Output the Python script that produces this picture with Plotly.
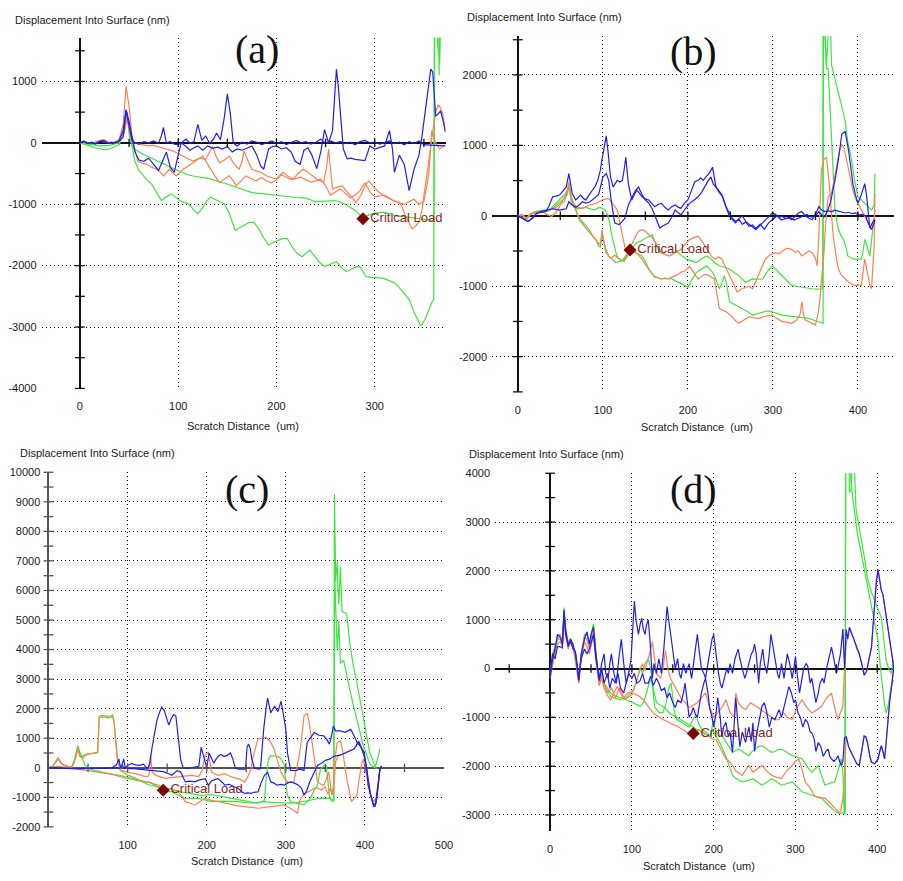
import plotly.graph_objects as go

W, H = 903, 881
BLUE = "#1f1ff2"
ORANGE = "#ff7f50"
GREEN = "#3de63d"

# ---------------- (a) scratch profiles: (distance um, displacement nm) ----------------
A_BLUE1 = [(0,0),(4,30),(8,-10),(12,0),(16,-20),(20,20),(24,40),(28,0),(32,-10),(36,10),(40,30),(44,90),(47,520),(50,280),(53,40),(56,0),(60,-20),(65,20),(70,0),(75,30),(80,-10),(83,120),(85,250),(88,0),(92,20),(96,-20),(100,-30),(104,10),(108,60),(112,-10),(116,20),(120,300),(124,40),(128,110),(132,-10),(136,60),(139,160),(143,50),(147,420),(150,800),(153,480),(156,0),(160,-50),(165,10),(170,-20),(175,30),(180,10),(185,-30),(190,0),(195,30),(200,-10),(205,20),(210,-30),(215,10),(220,40),(225,0),(230,20),(235,-20),(240,10),(245,60),(250,-10),(255,30),(260,0),(265,20),(270,-10),(275,10),(280,-30),(285,20),(290,40),(295,0),(300,10),(305,-20),(310,0),(315,30),(320,-10),(325,10),(330,-30),(335,20),(340,-10),(345,30),(350,-30),(355,-40),(360,-40),(365,-45),(372,-50)]
A_BLUE2 = [(0,0),(4,20),(8,-10),(12,10),(16,-10),(20,20),(24,30),(28,-10),(32,10),(36,0),(40,40),(44,200),(47,540),(50,350),(53,100),(56,-150),(60,-280),(65,-300),(70,-250),(75,-350),(80,-450),(84,-300),(88,-150),(92,-400),(96,-480),(100,-200),(103,0),(108,-60),(112,-120),(116,-80),(120,-50),(125,-120),(130,-50),(135,-90),(140,-70),(145,-100),(150,-60),(155,-150),(160,-100),(165,-120),(170,-90),(175,-50),(180,-200),(184,-380),(187,-430),(192,-100),(196,-60),(200,-50),(205,-100),(210,-80),(215,-150),(219,-300),(224,-350),(228,-120),(232,-80),(236,-200),(241,-420),(245,-150),(249,215),(253,0),(257,200),(259,700),(261,1200),(263,900),(265,500),(268,-100),(272,-260),(276,-250),(280,-270),(285,-280),(290,-290),(293,-150),(295,-50),(300,-100),(305,-80),(310,-50),(315,200),(318,-100),(320,-480),(325,-200),(330,-350),(335,-780),(340,-430),(345,-200),(348,100),(351,500),(354,900),(357,1200),(359,1150),(360,860),(362,430),(365,480),(367,520),(370,330),(372,170)]
A_ORANGE1 = [(0,0),(5,20),(10,0),(15,10),(20,40),(25,50),(30,10),(35,0),(40,60),(44,300),(47,920),(50,600),(53,100),(56,0),(60,-20),(65,-40),(70,-50),(75,-40),(80,-60),(88,-100),(95,-134),(100,-180),(105,-215),(110,-260),(115,-296),(122,-250),(128,-270),(132,-150),(135,-54),(138,-200),(142,-323),(147,-280),(152,-215),(157,-350),(162,-430),(165,-300),(167,-134),(170,-250),(175,-430),(180,-460),(185,-484),(190,-540),(195,-560),(200,-590),(204,-520),(207,-480),(212,-550),(217,-590),(222,-500),(227,-430),(232,-480),(237,-540),(242,-600),(248,-645),(251,-400),(253,-100),(255,-400),(257,-750),(262,-720),(267,-700),(272,-800),(277,-900),(281,-970),(286,-850),(290,-700),(294,-620),(299,-720),(304,-800),(310,-870),(315,-910),(320,-950),(325,-970),(328,-1050),(331,-1180),(335,-1300),(338,-1400),(342,-1350),(345,-1290),(348,-1100),(350,-860),(352,-600),(355,-320),(358,100),(361,400),(363,560),(365,620),(367,560),(369,480),(372,180)]
A_ORANGE2 = [(0,0),(5,10),(10,-10),(15,0),(20,30),(25,20),(30,0),(35,10),(40,20),(45,150),(48,400),(51,150),(54,0),(56,-100),(59,-296),(63,-330),(68,-350),(73,-400),(78,-430),(82,-480),(85,-538),(88,-480),(91,-430),(95,-500),(98,-538),(102,-480),(105,-430),(110,-380),(115,-323),(120,-260),(125,-215),(130,-350),(135,-484),(138,-560),(142,-645),(147,-590),(152,-538),(156,-620),(159,-700),(164,-620),(169,-538),(174,-580),(179,-618),(185,-565),(190,-620),(195,-650),(200,-600),(205,-520),(210,-560),(215,-600),(220,-580),(225,-560),(230,-600),(235,-640),(240,-620),(245,-590),(250,-700),(255,-850),(260,-800),(265,-750),(270,-820),(275,-900),(280,-850),(285,-780),(290,-650),(295,-800),(300,-880),(305,-860),(310,-850),(315,-900),(320,-950),(325,-980),(330,-1000),(335,-960),(340,-920),(345,-1000),(350,-950),(353,-700),(355,-500),(358,200),(360,100),(362,0),(366,-100),(369,-60),(372,-30)]
A_GREEN1 = [(0,0),(5,-10),(10,-20),(15,-30),(20,-50),(25,-45),(30,-40),(35,-20),(40,0),(43,150),(45,300),(47,530),(49,350),(51,150),(53,-50),(56,-100),(60,-150),(65,-190),(70,-230),(75,-270),(80,-300),(85,-350),(90,-390),(95,-420),(100,-450),(105,-490),(110,-520),(115,-540),(120,-550),(125,-565),(130,-580),(135,-600),(140,-630),(145,-650),(150,-670),(155,-700),(160,-730),(165,-760),(170,-790),(175,-810),(180,-820),(185,-830),(190,-840),(195,-850),(200,-860),(205,-870),(210,-880),(215,-885),(220,-890),(225,-895),(230,-900),(235,-930),(240,-960),(245,-955),(250,-950),(255,-945),(260,-940),(265,-970),(270,-1000),(275,-1048),(280,-1100),(284,-1160),(288,-1237),(292,-1190),(295,-1170),(300,-1150),(308,-1129),(314,-1150),(320,-1180),(326,-1195),(332,-1210),(338,-1225),(345,-1240),(350,-1250),(355,-1263),(360.3,-1270),(361,2500),(364,1600),(366,1300),(368,2500)]
A_GREEN2 = [(0,0),(5,-20),(10,-50),(15,-80),(20,-100),(25,-110),(30,-100),(35,-70),(40,-30),(43,100),(46,250),(48,500),(50,150),(53,-50),(56,-300),(60,-450),(63,-510),(68,-600),(73,-672),(78,-800),(83,-940),(88,-880),(93,-833),(97,-880),(101,-940),(106,-970),(111,-995),(115,-1080),(120,-1156),(125,-1050),(129,-950),(133,-887),(138,-930),(143,-960),(147,-995),(152,-1150),(158,-1425),(163,-1380),(168,-1330),(172,-1300),(177,-1290),(182,-1400),(187,-1550),(192,-1667),(197,-1620),(202,-1580),(206,-1560),(211,-1559),(216,-1700),(221,-1800),(226,-1855),(230,-1800),(234,-1747),(239,-1850),(244,-1950),(249,-2016),(255,-1980),(261,-1935),(266,-2030),(271,-2097),(276,-2060),(281,-2020),(285,-2016),(288,-2100),(291,-2177),(296,-2190),(302,-2200),(308,-2204),(314,-2240),(321,-2285),(326,-2380),(331,-2470),(335,-2554),(340,-2760),(344,-2900),(347,-2984),(351,-2880),(355,-2720),(358,-2600),(360,-2554),(360.8,3000),(363,1700),(364.5,3000),(365.5,1100),(366.5,3000)]

# ---------------- (b) ----------------
B_BLUE1 = [(0,0),(5,-30),(12,-80),(17,-30),(22,37),(27,50),(33,60),(37,150),(41,270),(45,280),(49,294),(53,350),(57,410),(60,600),(62,450),(64,317),(68,224),(71,260),(74,294),(77,250),(80,224),(84,300),(88,364),(91,420),(94,504),(97,644),(99,800),(101,924),(104,1134),(106,924),(109,551),(112,410),(115,480),(117,504),(120,480),(123,504),(125,650),(127,831),(130,457),(134,224),(137,300),(140,364),(143,320),(146,270),(150,240),(154,224),(158,170),(161,130),(165,160),(169,177),(173,120),(177,84),(181,130),(185,154),(189,120),(192,107),(196,180),(200,224),(204,350),(208,480),(212,504),(215,540),(218,504),(222,560),(226,620),(229,690),(231,550),(233,410),(237,330),(241,270),(245,120),(249,-10),(253,-60),(256,-100),(260,-40),(264,0),(268,-80),(272,-126),(276,-160),(280,-196),(284,-150),(288,-103),(292,-60),(296,0),(299,37),(303,20),(307,-20),(311,-10),(315,-40),(319,-30),(322,-56),(326,0),(330,40),(334,60),(338,0),(342,-30),(346,-56),(350,20),(354,130),(357,84),(361,60),(365,70),(369,60),(373,80),(377,70),(381,60),(385,40),(389,50),(393,30),(397,40),(401,10),(405,20),(409,0),(412,-100),(416,-196),(419,-100),(420,-56)]
B_BLUE2 = [(0,0),(5,-30),(12,-80),(17,-40),(22,30),(27,60),(33,80),(37,90),(41,100),(45,90),(49,80),(53,90),(57,100),(60,200),(64,150),(68,120),(72,150),(76,200),(80,180),(85,200),(90,250),(95,300),(100,551),(104,600),(107,500),(110,200),(114,-103),(119,-126),(123,-80),(126,-33),(130,154),(134,250),(138,350),(142,410),(146,300),(150,224),(154,180),(158,100),(161,14),(164,-80),(167,-173),(171,-140),(177,-103),(181,-20),(185,84),(189,40),(192,14),(197,100),(202,177),(207,220),(212,270),(216,330),(220,420),(224,500),(227,550),(230,450),(235,380),(240,300),(244,150),(248,60),(252,-30),(256,-80),(260,-50),(264,-120),(268,-90),(272,-150),(276,-130),(280,-180),(285,-120),(290,-190),(295,-100),(300,-50),(305,0),(310,-60),(315,-40),(320,-20),(325,-60),(330,-30),(335,-10),(340,20),(345,-20),(350,0),(354,60),(357,20),(360,-20),(364,60),(368,200),(371,400),(373,504),(377,800),(381,1158),(385,1200),(389,924),(392,650),(394,457),(397,300),(400,177),(404,300),(408,457),(410,300),(412,84),(414,-173),(417,-100),(419,-56)]
B_ORANGE1 = [(0,0),(5,20),(10,-30),(15,30),(20,50),(25,40),(30,60),(34,20),(40,-10),(45,50),(50,150),(54,250),(57,300),(60,400),(63,250),(66,170),(70,120),(76,107),(84,150),(92,177),(99,224),(103,240),(107,247),(110,200),(113,154),(117,84),(120,-100),(123,-290),(126,-450),(128,-523),(131,-470),(134,-406),(138,-300),(142,-220),(146,-196),(150,-220),(154,-266),(158,-310),(161,-360),(165,-450),(169,-523),(173,-550),(177,-570),(181,-550),(185,-523),(189,-500),(192,-476),(197,-400),(202,-336),(207,-310),(212,-290),(216,-350),(220,-430),(224,-520),(228,-580),(232,-616),(236,-580),(240,-616),(245,-756),(249,-850),(253,-943),(256,-1020),(258,-1083),(263,-1040),(268,-1013),(272,-1000),(276,-1036),(280,-920),(284,-803),(288,-700),(291,-616),(296,-560),(303,-523),(307,-540),(311,-500),(316,-460),(322,-476),(326,-520),(330,-500),(334,-570),(338,-540),(342,-500),(346,-523),(350,-600),(352,-710),(354,-290),(357,644),(360,800),(363,831),(365,600),(367,364),(369,0),(371,-290),(374,-550),(377,-756),(381,-850),(385,-896),(390,-950),(396,-990),(400,-980),(404,-990),(406,-800),(408,-616),(411,-800),(414,-990),(416,-1036),(418,-700),(419,-430),(420,317)]
B_ORANGE2 = [(0,0),(5,10),(10,-40),(15,20),(20,40),(25,60),(30,50),(35,70),(40,100),(45,120),(50,170),(55,200),(60,450),(63,250),(66,150),(70,20),(74,-56),(79,-120),(84,-196),(89,-300),(94,-383),(97,-406),(99,-200),(101,-350),(103,-500),(107,-580),(110,-600),(114,-560),(118,-600),(122,-640),(126,-620),(130,-560),(134,-450),(138,-500),(142,-560),(146,-620),(150,-700),(154,-760),(158,-820),(161,-860),(165,-880),(169,-900),(173,-880),(177,-900),(181,-870),(185,-850),(189,-830),(192,-800),(197,-780),(202,-720),(207,-820),(212,-900),(216,-860),(220,-830),(225,-850),(231,-896),(234,-1100),(237,-1316),(241,-1340),(245,-1363),(249,-1400),(253,-1456),(257,-1500),(260,-1526),(266,-1480),(272,-1433),(278,-1450),(284,-1456),(290,-1430),(295,-1420),(299,-1410),(305,-1460),(311,-1503),(316,-1510),(322,-1526),(328,-1480),(332,-1400),(334,-1223),(336,-1400),(338,-1480),(342,-1500),(346,-1530),(350,-1550),(353,-1400),(355,-1223),(358,-800),(360,-523),(362,-100),(365,270),(369,317),(372,500),(375,690),(378,900),(381,1017),(384,950),(386,831),(390,600),(394,364),(397,250),(400,177),(404,80),(408,-10),(412,-100),(416,-196),(419,-56)]
B_GREEN1 = [(0,0),(5,-20),(10,-60),(15,20),(20,60),(25,70),(30,80),(35,90),(40,100),(45,150),(50,200),(55,250),(58,300),(60,480),(63,250),(66,150),(70,100),(75,110),(80,120),(85,100),(90,80),(94,110),(97,120),(100,100),(103,80),(106,0),(108,-100),(110,-250),(113,-400),(116,-550),(118,-600),(122,-630),(125,-650),(128,-560),(132,-485),(136,-430),(140,-383),(144,-360),(148,-336),(153,-300),(158,-266),(162,-400),(167,-523),(173,-550),(179,-570),(183,-530),(187,-500),(192,-560),(198,-616),(204,-640),(210,-663),(216,-610),(222,-570),(226,-600),(229,-640),(233,-680),(237,-710),(243,-730),(249,-756),(254,-800),(260,-850),(264,-900),(268,-943),(272,-920),(276,-896),(282,-900),(288,-896),(293,-800),(299,-710),(305,-780),(311,-850),(316,-920),(322,-990),(328,-1000),(334,-1013),(340,-1020),(346,-1036),(352,-1040),(357,-1036),(358.6,-1036),(359,3000),(361,2700),(363,2138),(365,2600),(367,3000),(369,2138),(373,1950),(377,1765),(381,1550),(385,1344),(388,1050),(392,831),(396,500),(400,270),(404,220),(408,177),(412,130),(416,84),(419,150),(420,597)]
B_GREEN2 = [(0,0),(5,-20),(10,-50),(15,30),(20,50),(25,60),(30,70),(35,60),(40,120),(45,180),(50,250),(55,300),(60,400),(63,200),(66,120),(68,107),(72,-56),(78,-150),(84,-243),(88,-290),(92,-336),(95,-430),(97,-440),(99,-300),(101,-350),(103,-450),(107,-570),(111,-620),(115,-663),(119,-650),(123,-640),(126,-580),(130,-523),(134,-500),(138,-520),(142,-550),(146,-570),(150,-650),(154,-756),(158,-820),(161,-873),(165,-880),(169,-896),(175,-890),(181,-896),(185,-920),(189,-943),(194,-980),(200,-1013),(205,-900),(210,-803),(216,-760),(222,-710),(226,-760),(229,-803),(233,-900),(237,-1036),(240,-950),(243,-850),(246,-1000),(249,-1223),(253,-1250),(256,-1270),(260,-1290),(264,-1316),(270,-1360),(276,-1410),(282,-1390),(288,-1363),(294,-1350),(299,-1363),(305,-1390),(311,-1410),(318,-1420),(326,-1433),(334,-1445),(342,-1456),(350,-1490),(355,-1510),(359,-1526),(359.5,3000),(363,2090),(365,2090),(367,1600),(369,1064),(371,500),(373,84),(377,-196),(380,-280),(383,-336),(386,-450),(388,-570),(392,-600),(396,-616),(400,-620),(404,-616),(406,-500),(408,-336),(411,-450),(414,-570),(416,-350),(418,-103),(420,84)]

# ---------------- (c) ----------------
C_BLUE1 = [(0,0),(10,-10),(20,0),(30,-20),(40,-30),(50,-20),(60,-30),(70,-20),(80,-10),(85,0),(90,-20),(93,100),(96,-30),(100,80),(105,150),(110,100),(115,80),(120,120),(125,-40),(128,150),(131,700),(134,1200),(137,1600),(140,1850),(143,2050),(146,1950),(149,1700),(152,1450),(155,1650),(158,1800),(161,1750),(163,1300),(165,800),(167,300),(170,0),(175,-20),(180,0),(185,20),(190,50),(193,700),(195,500),(197,250),(200,0),(203,500),(206,300),(209,150),(212,300),(215,400),(218,450),(222,380),(226,420),(230,500),(233,300),(236,0),(240,-50),(245,-60),(249,-50),(251,700),(253,800),(255,650),(257,300),(260,0),(265,-50),(268,-30),(270,700),(272,1300),(275,2000),(277,2360),(279,2100),(281,1860),(284,2000),(286,2080),(290,1900),(294,2250),(297,1800),(300,1300),(302,523),(306,-89),(312,-100),(318,-50),(323,-89),(325,400),(327,857),(331,1000),(336,1190),(342,1100),(348,1080),(352,950),(355,800),(358,1100),(360,1413),(363,1250),(369,1246),(375,1200),(382,1300),(386,1100),(390,857),(395,700),(399,523),(402,0),(404,-590),(408,-1000),(411,-1313),(413,-1300),(415,-924),(417,-500),(419,-33),(421,50)]
C_BLUE2 = [(0,0),(10,-20),(20,-20),(30,-30),(40,-30),(50,-40),(60,-30),(70,-20),(80,0),(86,100),(89,300),(91,0),(93,100),(95,300),(97,0),(100,-30),(105,-20),(110,-40),(115,-50),(120,-60),(125,-80),(130,-90),(135,-100),(140,-110),(145,-130),(150,-180),(156,-256),(160,-150),(163,-100),(167,-145),(170,-300),(173,-479),(178,-450),(185,-479),(190,-420),(195,-380),(198,-367),(202,-590),(206,-450),(210,-400),(214,-367),(218,-450),(223,-590),(228,-560),(232,-600),(236,-650),(240,-700),(244,-800),(248,-868),(252,-850),(256,-868),(260,-830),(265,-812),(269,-500),(273,-256),(277,-145),(279,-300),(281,-479),(285,-520),(289,-590),(294,-560),(298,-590),(302,-520),(306,-479),(311,-520),(316,-590),(320,-700),(323,-924),(326,-800),(330,-500),(335,-200),(340,78),(345,150),(350,250),(356,300),(360,380),(365,412),(371,450),(377,523),(382,600),(386,634),(389,750),(392,900),(395,700),(399,412),(402,0),(404,-400),(407,-900),(411,-1258),(414,-1200),(416,-800),(419,-33),(421,50)]
C_ORANGE1 = [(0,0),(5,50),(9,200),(12,330),(16,150),(20,80),(25,40),(30,50),(34,300),(37,650),(39,400),(41,356),(45,420),(49,467),(54,480),(58,500),(62,520),(63,1000),(64,1747),(68,1770),(72,1750),(76,1740),(79,1747),(81,1800),(83,1525),(85,800),(87,300),(91,-89),(95,-120),(100,-150),(105,-180),(110,-200),(115,-250),(120,-280),(125,-300),(127,-250),(129,412),(131,-145),(135,-250),(140,-300),(144,-340),(148,-367),(152,-340),(156,-330),(160,-320),(164,-312),(168,-300),(172,-280),(176,-270),(181,-256),(186,-280),(190,-300),(194,-100),(198,412),(200,480),(202,523),(204,200),(206,-145),(210,-200),(214,-256),(218,-230),(223,-200),(227,-260),(231,-312),(235,-340),(240,-367),(244,-420),(248,-479),(252,-300),(256,-33),(258,300),(260,523),(263,800),(265,968),(270,1000),(275,1024),(278,950),(281,857),(285,650),(288,412),(291,100),(294,-145),(298,-350),(302,-479),(306,-500),(310,-479),(313,-100),(317,412),(320,1000),(323,1747),(325,1800),(327,1860),(329,1600),(331,1302),(333,900),(335,523),(338,0),(340,-479),(344,-550),(348,-590),(351,-400),(354,-145),(356,-500),(358,-924),(360,-700),(362,300),(365,857),(367,900),(369,912),(371,700),(373,412),(375,0),(377,-367),(380,-800),(383,-1146),(386,-1050),(390,-924),(392,-500),(394,-145),(396,150),(398,300),(401,-100),(404,-479),(407,-900),(411,-1146),(415,-1000),(417,-500),(419,-33),(421,78)]
C_ORANGE2 = [(0,0),(5,30),(10,60),(15,40),(20,20),(25,0),(30,-20),(40,-50),(50,-100),(60,-150),(70,-180),(80,-220),(90,-260),(100,-320),(110,-380),(120,-450),(130,-520),(140,-600),(150,-680),(157,-740),(164,-812),(168,-950),(173,-1146),(179,-1200),(185,-1258),(191,-1150),(198,-1035),(206,-1100),(214,-1146),(222,-1200),(231,-1258),(240,-1290),(248,-1313),(256,-1340),(265,-1369),(273,-1340),(281,-1313),(290,-1290),(298,-1258),(302,-1320),(306,-1369),(310,-1450),(315,-1536),(317,-1146),(320,-1000),(325,-850),(330,-800),(335,-700),(340,-680),(345,-750),(350,-640),(353,-900),(356,-700),(359,-900),(361,-500),(363,200),(366,400),(371,450),(377,523),(382,600),(386,634),(389,750),(392,900),(395,700),(399,412),(402,0),(404,-400),(407,-900),(411,-1258),(414,-1200),(416,-800),(419,-33)]
C_GREEN1 = [(0,0),(5,50),(9,200),(12,330),(16,150),(20,80),(25,30),(29,20),(33,300),(37,746),(40,500),(43,300),(46,100),(49,22),(53,-50),(58,-89),(64,-120),(70,-150),(75,-180),(80,-200),(85,-250),(90,-300),(95,-330),(100,-350),(105,-390),(110,-420),(115,-450),(120,-480),(127,-479),(131,-540),(135,-590),(140,-680),(145,-757),(150,-730),(155,-700),(160,-760),(165,-800),(170,-830),(175,-850),(180,-880),(185,-900),(190,-930),(195,-950),(200,-920),(205,-900),(210,-930),(215,-950),(220,-980),(225,-1000),(230,-1030),(235,-1050),(240,-1080),(245,-1100),(250,-1120),(255,-1150),(260,-1170),(265,-1200),(270,-1150),(273,-1100),(275,-400),(278,300),(281,412),(285,400),(290,380),(294,300),(298,100),(300,-500),(302,-924),(306,-1146),(310,-1180),(315,-1200),(319,-1230),(323,-1258),(327,-1150),(331,-1035),(335,-800),(340,-590),(342,-300),(344,-33),(348,60),(351,78),(353,-400),(355,-924),(357,-1100),(359,-1146),(360.5,-1100),(361.5,9260),(363,6310),(365,6979),(366,6000),(367,5530),(369,6810),(371,5300),(374,5250),(377,5200),(381,4200),(385,3500),(390,2860),(394,2250),(398,1636),(402,1100),(406,523),(410,250),(413,22),(416,300),(419,634)]
C_GREEN2 = [(0,0),(5,40),(9,180),(12,300),(16,140),(20,80),(25,40),(30,30),(34,300),(37,700),(40,450),(43,320),(46,400),(49,450),(54,480),(58,500),(62,510),(63,1000),(64,1700),(68,1720),(72,1700),(76,1690),(79,1700),(81,1750),(83,1500),(85,800),(87,280),(91,-100),(95,-180),(100,-250),(105,-300),(110,-350),(115,-430),(120,-500),(125,-560),(130,-600),(135,-620),(140,-650),(144,-720),(148,-812),(152,-800),(156,-812),(160,-880),(165,-950),(169,-1000),(173,-1035),(180,-1040),(189,-1035),(197,-1080),(206,-1146),(214,-1130),(223,-1146),(231,-1140),(240,-1146),(248,-1180),(256,-1200),(265,-1170),(273,-1146),(281,-1170),(290,-1180),(298,-1190),(306,-1200),(315,-1170),(323,-1146),(331,-1100),(340,-1035),(348,-1040),(356,-1035),(360,-1100),(360.8,-1100),(361.8,6500),(363,5300),(365,3970),(367,4975),(369,3530),(373,3640),(377,3100),(381,2640),(385,2150),(390,1636),(394,1200),(398,746),(402,450),(406,134),(410,50),(415,-33)]

# ---------------- (d) ----------------
D_BLUE1 = [(0,-100),(3,300),(6,200),(9,450),(12,450),(15,420),(17,1200),(19,700),(22,500),(25,550),(28,400),(31,350),(35,-200),(38,200),(42,400),(45,300),(48,400),(53,700),(56,200),(60,-200),(63,100),(66,300),(68,-100),(71,-200),(73,100),(75,300),(78,-100),(81,-300),(84,200),(87,600),(90,100),(93,-300),(96,-100),(99,200),(101,800),(103,1380),(105,1000),(108,700),(110,900),(112,1030),(114,800),(116,700),(118,900),(120,1000),(122,600),(125,-200),(127,100),(130,-100),(133,200),(136,-100),(139,400),(141,900),(143,1270),(145,1000),(148,600),(150,300),(153,0),(156,200),(158,-100),(160,-200),(163,100),(166,-100),(170,100),(173,-200),(176,200),(178,500),(180,700),(182,400),(185,0),(188,-100),(190,-200),(193,100),(196,400),(198,600),(200,700),(202,400),(205,0),(208,-300),(210,-400),(213,-200),(216,0),(218,-100),(220,100),(223,-100),(226,200),(228,300),(230,400),(232,200),(235,0),(238,-200),(240,-100),(243,100),(246,300),(248,350),(250,500),(252,300),(255,-300),(257,100),(260,400),(262,100),(265,-100),(268,300),(270,700),(272,500),(275,200),(278,-100),(280,-200),(283,100),(286,-200),(288,100),(290,300),(293,100),(296,-200),(298,0),(300,250),(302,-100),(305,-500),(308,-200),(310,0),(313,100),(315,50),(318,-300),(320,-200),(322,-400),(325,-700),(328,-500),(330,-300),(333,-200),(335,-300),(338,0),(341,200),(344,438),(347,200),(350,-100),(352,34),(355,300),(358,808),(360,0),(362,800),(364,600),(366,842),(369,700),(372,572),(375,400),(378,303),(381,100),(384,-135),(387,-50),(390,200),(393,438),(395,900),(397,1380),(399,1800),(401,2020),(403,1800),(405,1600),(407,1515),(410,1200),(413,909),(416,500),(419,168),(420,0)]
D_BLUE2 = [(0,-200),(3,200),(6,400),(9,700),(12,650),(15,500),(17,1150),(19,800),(22,450),(25,600),(28,500),(31,300),(35,-250),(38,300),(42,600),(45,750),(48,500),(50,700),(53,850),(56,300),(60,-250),(63,0),(66,-300),(70,-100),(73,-400),(76,-200),(80,-300),(83,-100),(86,-400),(90,-500),(93,-300),(96,-100),(100,-200),(103,-100),(106,-300),(110,-250),(113,-100),(116,-300),(120,-300),(123,-150),(126,-350),(130,-200),(133,-300),(136,-450),(140,-400),(143,-600),(146,-500),(150,-700),(153,-800),(156,-650),(160,-700),(163,-500),(165,-300),(168,-700),(170,-1000),(173,-900),(175,-800),(178,-950),(180,-1000),(183,-700),(185,-500),(188,-300),(190,-200),(193,-500),(195,-800),(198,-1000),(200,-1200),(203,-900),(205,-600),(208,-1000),(210,-1400),(212,-1200),(215,-1100),(218,-1400),(220,-1300),(223,-1717),(225,-1000),(227,-600),(230,-1200),(232,-1600),(235,-1300),(239,-1515),(243,-1200),(246,-1500),(248,-1111),(250,-1700),(253,-1300),(256,-1000),(259,-774),(262,-700),(265,-900),(268,-1200),(271,-1000),(275,-1044),(278,-900),(280,-842),(283,-1000),(286,-800),(289,-600),(292,-370),(295,-500),(298,-700),(300,-640),(303,-900),(306,-1000),(309,-1200),(312,-1044),(315,-1100),(318,-1300),(320,-1313),(323,-1450),(325,-1700),(328,-1515),(331,-1600),(334,-1800),(337,-1700),(340,-1650),(342,-1800),(344,-1852),(347,-1900),(350,-1850),(352,-1785),(354,-1900),(356,-1987),(358,-1900),(360,-1414),(362,-1400),(365,-1600),(368,-1717),(372,-1850),(375,-1950),(378,-1987),(381,-1700),(384,-1380),(386,-1400),(388,-1515),(391,-1800),(393,-1920),(397,-1950),(401,-1852),(403,-1700),(405,-1582),(407,-1700),(409,-1852),(411,-1500),(413,-1111),(415,-700),(418,-303),(420,0)]
D_ORANGE1 = [(0,-150),(3,100),(6,300),(9,650),(12,700),(15,550),(17,1100),(19,700),(22,500),(25,620),(28,450),(31,200),(35,-300),(38,250),(42,650),(45,600),(48,400),(53,850),(56,200),(60,-300),(63,-100),(66,-300),(70,-500),(75,-400),(80,-600),(85,-400),(90,-600),(95,-500),(100,-500),(105,-300),(108,-100),(110,0),(113,100),(116,-50),(118,100),(120,200),(123,400),(125,550),(127,300),(130,-100),(135,-200),(138,0),(141,370),(144,0),(147,-200),(150,-300),(155,-450),(160,-600),(165,-700),(170,-800),(175,-750),(180,-700),(185,-600),(190,-500),(195,-800),(200,-1000),(205,-900),(210,-800),(215,-640),(220,-900),(225,-1000),(227,-505),(230,-700),(235,-800),(239,-842),(245,-700),(252,-774),(258,-850),(264,-909),(270,-1000),(275,-1050),(280,-1044),(285,-900),(290,-1000),(296,-1044),(302,-800),(308,-640),(314,-800),(320,-909),(326,-850),(332,-774),(338,-600),(344,-505),(348,-800),(352,-1044),(355,-900),(358,-774),(360,0),(362,500),(364,700),(366,842),(369,700),(372,572),(375,400),(378,303),(381,100),(384,-135),(387,-50),(390,200),(393,438),(395,900),(397,1380),(399,1800),(401,2020),(403,1800),(405,1600),(407,1515),(410,1200),(413,909),(416,500),(419,168),(420,0)]
D_ORANGE2 = [(0,-200),(3,150),(6,350),(9,600),(12,600),(15,450),(17,1000),(19,650),(22,400),(25,550),(28,400),(31,150),(35,-280),(38,200),(42,550),(45,450),(48,300),(53,700),(56,150),(60,-350),(63,-200),(66,-400),(70,-550),(74,-640),(78,-500),(82,-370),(86,-500),(90,-640),(95,-600),(102,-505),(108,-560),(114,-640),(120,-780),(126,-909),(132,-980),(138,-1044),(145,-1100),(150,-1150),(155,-1178),(162,-1250),(167,-1300),(171,-1313),(177,-1330),(182,-1250),(187,-1313),(193,-1380),(199,-1448),(203,-1470),(207,-1600),(211,-1717),(215,-1850),(219,-1900),(223,-1987),(227,-2100),(231,-2150),(235,-2189),(240,-2050),(243,-1987),(248,-2121),(254,-2050),(259,-1987),(265,-2100),(271,-2189),(277,-2230),(283,-2256),(289,-2100),(296,-1987),(300,-1900),(304,-1852),(307,-2000),(312,-2323),(318,-2450),(324,-2626),(330,-2640),(336,-2660),(342,-2750),(348,-2862),(351,-2920),(354,-2963),(356,-2850),(358,-2660),(360,-2189),(362,-1380),(365,-1600),(368,-1717),(372,-1850),(375,-1950),(378,-1987),(381,-1700),(384,-1380),(386,-1400),(388,-1515),(391,-1800),(393,-1920),(397,-1950),(401,-1852),(403,-1700),(405,-1582),(407,-1700),(409,-1852),(411,-1500),(413,-1111),(415,-700),(418,-303),(420,0)]
D_GREEN1 = [(0,-100),(3,300),(6,450),(9,600),(12,680),(15,500),(17,1250),(19,800),(22,550),(25,600),(28,450),(31,250),(35,-250),(38,250),(42,600),(45,750),(48,450),(53,900),(56,300),(60,-320),(63,-100),(66,-350),(70,-450),(74,-572),(78,-600),(82,-620),(86,-640),(90,-600),(94,-650),(98,-673),(102,-700),(106,-740),(110,-774),(114,-700),(118,-500),(121,-300),(124,-200),(126,-500),(128,-800),(131,-850),(134,-909),(138,-900),(142,-700),(145,-400),(148,-300),(150,-600),(152,-900),(155,-1044),(160,-1100),(164,-1150),(167,-1178),(170,-1200),(173,-1100),(176,-1000),(179,-976),(182,-1150),(186,-1250),(191,-1313),(196,-1380),(199,-1111),(203,-1300),(207,-1380),(211,-1380),(215,-1500),(219,-1600),(223,-1717),(227,-1680),(231,-1650),(235,-1700),(239,-1750),(243,-1785),(247,-1700),(251,-1650),(255,-1600),(259,-1582),(263,-1620),(267,-1680),(271,-1717),(275,-1700),(279,-1660),(283,-1650),(288,-1700),(292,-1750),(296,-1785),(300,-1800),(304,-1820),(308,-1852),(312,-1950),(316,-2050),(320,-2121),(324,-2050),(328,-1987),(332,-2200),(336,-2390),(340,-2360),(344,-2340),(348,-2323),(352,-2100),(356,-1852),(358,-2121),(359.5,-2963),(360.5,-2963),(361.3,5000),(363,4200),(365,4800),(366,3600),(368,3670),(370,4500),(372,4200),(374,3266),(377,3000),(380,2727),(384,2300),(388,1852),(392,1600),(397,1380),(401,1200),(405,1044),(408,600),(411,168),(414,0),(417,-101),(420,168)]
D_GREEN2 = [(0,-50),(3,250),(6,400),(9,500),(12,550),(15,480),(17,1200),(19,750),(22,500),(25,560),(28,420),(31,280),(35,-200),(38,280),(42,700),(45,700),(48,500),(53,920),(56,280),(60,-280),(63,0),(66,-300),(70,-400),(74,-500),(78,-550),(82,-570),(86,-600),(90,-600),(94,-580),(98,-500),(102,-450),(105,-300),(108,-100),(110,0),(113,-100),(116,100),(120,200),(123,0),(126,-400),(130,-700),(135,-750),(140,-800),(146,-909),(150,-950),(155,-1000),(160,-1050),(165,-1100),(170,-1150),(175,-1200),(180,-1260),(185,-1300),(190,-1350),(195,-1380),(199,-1246),(203,-1400),(207,-1500),(211,-1650),(215,-1800),(219,-2000),(223,-2189),(227,-2250),(231,-2280),(235,-2323),(240,-2300),(244,-2270),(248,-2256),(253,-2320),(259,-2390),(265,-2330),(271,-2256),(277,-2320),(283,-2390),(289,-2360),(296,-2323),(302,-2420),(308,-2525),(314,-2560),(320,-2593),(326,-2620),(332,-2660),(338,-2760),(344,-2862),(348,-2920),(352,-2963),(356,-2970),(360,-2963),(360.8,-2963),(361.6,5000),(364,4500),(367,4000),(370,3500),(373,3100),(376,2727),(380,2400),(384,2054),(388,1650),(393,1246),(397,900),(401,572),(404,0),(407,-505),(409,-750),(411,-909),(414,-700),(417,-370),(420,-236)]

# critical-load points (distance um, displacement nm)
A_CRIT = (288, -1237)
B_CRIT = (132, -485)
C_CRIT = (145, -757)
D_CRIT = (175, -1333)

A_XTICKS = [0, 100, 200, 300]
A_YTICKS = [-4000, -3000, -2000, -1000, 0, 1000]
B_XTICKS = [0, 100, 200, 300, 400]
B_YTICKS = [-2000, -1000, 0, 1000, 2000]
C_XTICKS = [100, 200, 300, 400, 500]
C_YTICKS = list(range(-2000, 10001, 1000))
D_XTICKS = [0, 100, 200, 300, 400]
D_YTICKS = [-3000, -2000, -1000, 0, 1000, 2000, 3000, 4000]

SANS = "Liberation Sans, Arial, sans-serif"
SERIF = "Liberation Serif, Times New Roman, serif"

panels = [
    dict(curves=[(A_GREEN1, GREEN), (A_GREEN2, GREEN), (A_ORANGE1, ORANGE), (A_ORANGE2, ORANGE), (A_BLUE1, BLUE), (A_BLUE2, BLUE)],
         crit=A_CRIT, xticks=A_XTICKS, yticks=A_YTICKS, box=(42, 32.3, 450, 387.7),
         xr=[-39, 372], yr=[-4000, 1710], label="(a)", label_at=(260, 44),
         ytitle_at=(13, 14), xtitle_at=(245, 426), left_axis=False),
    dict(curves=[(B_GREEN1, GREEN), (B_GREEN2, GREEN), (B_ORANGE1, ORANGE), (B_ORANGE2, ORANGE), (B_BLUE1, BLUE), (B_BLUE2, BLUE)],
         crit=B_CRIT, xticks=B_XTICKS, yticks=B_YTICKS, box=(497, 30.7, 903, 391.2),
         xr=[-30.3, 442.4], yr=[-2500, 2549], label="(b)", label_at=(700, 46),
         ytitle_at=(470, 11), xtitle_at=(704, 427), left_axis=False),
    dict(curves=[(C_GREEN1, GREEN), (C_GREEN2, GREEN), (C_ORANGE2, ORANGE), (C_ORANGE1, ORANGE), (C_BLUE2, BLUE), (C_BLUE1, BLUE)],
         crit=C_CRIT, xticks=C_XTICKS, yticks=C_YTICKS, box=(49, 472.7, 448.5, 832.2),
         xr=[0, 500], yr=[-2000, 10000], label="(c)", label_at=(249, 490),
         ytitle_at=(18, 453), xtitle_at=(249, 867), left_axis=True),
    dict(curves=[(D_GREEN1, GREEN), (D_GREEN2, GREEN), (D_ORANGE1, ORANGE), (D_ORANGE2, ORANGE), (D_BLUE1, BLUE), (D_BLUE2, BLUE)],
         crit=D_CRIT, xticks=D_XTICKS, yticks=D_YTICKS, box=(500, 473.7, 903, 836.0),
         xr=[-67.4, 420.5], yr=[-3320, 4000], label="(d)", label_at=(700, 490),
         ytitle_at=(472, 454), xtitle_at=(706, 872), left_axis=False),
]


def fmt(v):
    return str(int(v))


fig = go.Figure()
annotations = []

for i, p in enumerate(panels):
    n = "" if i == 0 else str(i + 1)
    xa, ya = "x" + n, "y" + n
    axis_col = "#555555" if p["left_axis"] else "#111111"

    for pts, col in p["curves"]:
        fig.add_trace(go.Scatter(
            x=[q[0] for q in pts], y=[q[1] for q in pts], mode="lines",
            line=dict(color=col, width=1.2), xaxis=xa, yaxis=ya,
            showlegend=False, hoverinfo="skip"))

    # small tick marks sitting on the two axis lines through the origin
    yt = [v for v in range(-10000, 10001, 500) if p["yr"][0] <= v <= p["yr"][1] and v != 0]
    fig.add_trace(go.Scatter(
        x=[0] * len(yt), y=yt, mode="markers", cliponaxis=False,
        marker=dict(symbol="line-ew", size=7, line=dict(color=axis_col, width=1.3)),
        xaxis=xa, yaxis=ya, showlegend=False, hoverinfo="skip"))
    xt = [v for v in range(-100, 501, 50) if p["xr"][0] < v < p["xr"][1] and v != 0]
    fig.add_trace(go.Scatter(
        x=xt, y=[0] * len(xt), mode="markers", cliponaxis=False,
        marker=dict(symbol="line-ns", size=6, line=dict(color=axis_col, width=1.3)),
        xaxis=xa, yaxis=ya, showlegend=False, hoverinfo="skip"))

    cx, cy = p["crit"]
    fig.add_trace(go.Scatter(
        x=[cx], y=[cy], mode="markers+text", text=["Critical Load"],
        textposition="middle right",
        textfont=dict(family=SANS, size=13, color="#8b1f1f"),
        marker=dict(symbol="diamond", size=10, color="#7a0606"),
        xaxis=xa, yaxis=ya, showlegend=False, hoverinfo="skip"))

    l, t, r, b = p["box"]
    grid = dict(showgrid=True, gridcolor="#000000", gridwidth=1, griddash="1px,3px",
                ticks="", showline=False,
                tickfont=dict(family=SANS, size=11, color="#1a1a1a"))
    xaxis = dict(grid, domain=[l / W, r / W], range=p["xr"], anchor=ya,
                 tickvals=p["xticks"], ticktext=[fmt(v) for v in p["xticks"]],
                 zeroline=not p["left_axis"], zerolinecolor=axis_col, zerolinewidth=1.5,
                 ticklabelstandoff=10)
    yaxis = dict(grid, domain=[1 - b / H, 1 - t / H], range=p["yr"], anchor=xa,
                 tickvals=p["yticks"], ticktext=[fmt(v) for v in p["yticks"]],
                 zeroline=True, zerolinecolor=axis_col,
                 zerolinewidth=2 if p["left_axis"] else 1.5,
                 ticklabelstandoff=4)
    if p["left_axis"]:
        yaxis.update(showline=True, linecolor=axis_col, linewidth=2)
    fig.update_layout(**{"xaxis" + n: xaxis, "yaxis" + n: yaxis})

    lx, ly = p["label_at"]
    annotations.append(dict(text=p["label"], x=lx / W, y=1 - ly / H, xref="paper", yref="paper",
                            xanchor="center", yanchor="middle", showarrow=False,
                            font=dict(family=SERIF, size=40, color="#111111")))
    tx, ty = p["ytitle_at"]
    annotations.append(dict(text="Displacement Into Surface (nm)", x=tx / W, y=1 - ty / H,
                            xref="paper", yref="paper", xanchor="left", yanchor="middle",
                            showarrow=False, font=dict(family=SANS, size=11, color="#1a1a1a")))
    sx, sy = p["xtitle_at"]
    annotations.append(dict(text="Scratch Distance  (um)", x=sx / W, y=1 - sy / H,
                            xref="paper", yref="paper", xanchor="center", yanchor="middle",
                            showarrow=False, font=dict(family=SANS, size=11, color="#1a1a1a")))

fig.update_layout(width=W, height=H, margin=dict(l=0, r=0, t=0, b=0),
                  paper_bgcolor="white", plot_bgcolor="white",
                  annotations=annotations, showlegend=False)

fig.write_html("out.html")
